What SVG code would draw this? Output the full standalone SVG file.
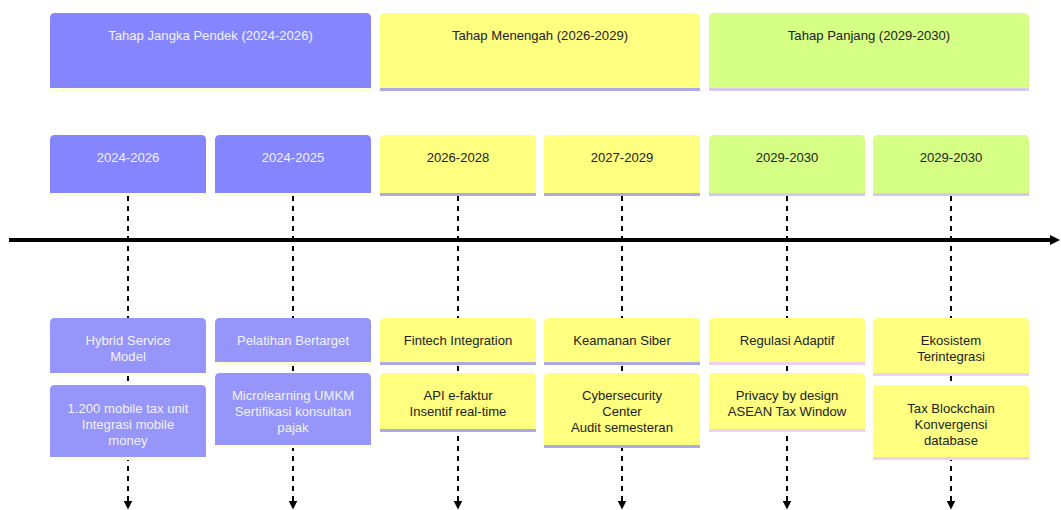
<svg xmlns="http://www.w3.org/2000/svg" width="1061" height="510" viewBox="0 0 1061 510">
<style>
text{font-family:"Liberation Sans",Arial,sans-serif;font-size:13.1px;text-anchor:middle;dominant-baseline:central}
.s0{fill:#8585ff}.s1{fill:#ffff80}.s2{fill:#d6ff85}
.e0{fill:#9595fa}
.t0{fill:#f2f2ff}.t1{fill:#222}
.l0{stroke:#ffffd6;stroke-width:3}.l1{stroke:#aaaae6;stroke-width:3}.l2{stroke:#d8c8f0;stroke-width:3}.l2e{stroke:#f0d0f0;stroke-width:3}
.dash{stroke:#000;stroke-width:2;stroke-dasharray:5,5;fill:none}
</style>
<defs>
<marker id="ah" viewBox="0 0 10 10" refX="5" refY="5" markerWidth="4.5" markerHeight="4.5" orient="auto"><path d="M0,0L10,5L0,10z" fill="#000"/></marker>
<marker id="ax" viewBox="0 0 10 10" refX="2" refY="5" markerWidth="2.5" markerHeight="3" orient="auto"><path d="M0,0L10,5L0,10z" fill="#000"/></marker>
</defs>
<g id="connectors">
<line x1="9" y1="240" x2="1052" y2="240" stroke="#000" stroke-width="4" marker-end="url(#ax)"/>
<line class="dash" x1="128" y1="196" x2="128" y2="505" marker-end="url(#ah)"/>
<line class="dash" x1="293" y1="196" x2="293" y2="505" marker-end="url(#ah)"/>
<line class="dash" x1="458" y1="196" x2="458" y2="505" marker-end="url(#ah)"/>
<line class="dash" x1="622" y1="196" x2="622" y2="505" marker-end="url(#ah)"/>
<line class="dash" x1="787" y1="196" x2="787" y2="505" marker-end="url(#ah)"/>
<line class="dash" x1="951" y1="196" x2="951" y2="505" marker-end="url(#ah)"/>
</g>
<g id="section-pendek">
<path class="s0" d="M50,88V18Q50,13 55,13H366Q371,13 371,18V88Z"/>
<line class="l0" x1="50" y1="89.5" x2="371" y2="89.5"/>
<text class="t0" x="210.5" y="35">Tahap Jangka Pendek (2024-2026)</text>
</g>
<g id="section-menengah">
<path class="s1" d="M380,88V18Q380,13 385,13H695Q700,13 700,18V88Z"/>
<line class="l1" x1="380" y1="89.5" x2="700" y2="89.5"/>
<text class="t1" x="540" y="35">Tahap Menengah (2026-2029)</text>
</g>
<g id="section-panjang">
<path class="s2" d="M709,88V18Q709,13 714,13H1024Q1029,13 1029,18V88Z"/>
<line class="l2" x1="709" y1="89.5" x2="1029" y2="89.5"/>
<text class="t1" x="869" y="35">Tahap Panjang (2029-2030)</text>
</g>
<g id="period-1">
<path class="s0" d="M50,193V140Q50,135 55,135H201Q206,135 206,140V193Z"/>
<line class="l0" x1="50" y1="194.5" x2="206" y2="194.5"/>
<text class="t0" x="128" y="157">2024-2026</text>
</g>
<g id="period-2">
<path class="s0" d="M215,193V140Q215,135 220,135H366Q371,135 371,140V193Z"/>
<line class="l0" x1="215" y1="194.5" x2="371" y2="194.5"/>
<text class="t0" x="293" y="157">2024-2025</text>
</g>
<g id="period-3">
<path class="s1" d="M380,193V140Q380,135 385,135H531Q536,135 536,140V193Z"/>
<line class="l1" x1="380" y1="194.5" x2="536" y2="194.5"/>
<text class="t1" x="458" y="157">2026-2028</text>
</g>
<g id="period-4">
<path class="s1" d="M544,193V140Q544,135 549,135H695Q700,135 700,140V193Z"/>
<line class="l1" x1="544" y1="194.5" x2="700" y2="194.5"/>
<text class="t1" x="622" y="157">2027-2029</text>
</g>
<g id="period-5">
<path class="s2" d="M709,193V140Q709,135 714,135H860Q865,135 865,140V193Z"/>
<line class="l2" x1="709" y1="194.5" x2="865" y2="194.5"/>
<text class="t1" x="787" y="157">2029-2030</text>
</g>
<g id="period-6">
<path class="s2" d="M873,193V140Q873,135 878,135H1024Q1029,135 1029,140V193Z"/>
<line class="l2" x1="873" y1="194.5" x2="1029" y2="194.5"/>
<text class="t1" x="951" y="157">2029-2030</text>
</g>
<g id="event-1a">
<path class="e0" d="M50,373V323Q50,318 55,318H201Q206,318 206,323V373Z"/>
<line class="l0" x1="50" y1="374.5" x2="206" y2="374.5"/>
<text class="t0" x="128"><tspan x="128" y="340">Hybrid Service</tspan><tspan x="128" y="356">Model</tspan></text>
</g>
<g id="event-1b">
<path class="e0" d="M50,457V390Q50,385 55,385H201Q206,385 206,390V457Z"/>
<line class="l0" x1="50" y1="458.5" x2="206" y2="458.5"/>
<text class="t0"><tspan x="128" y="408">1.200 mobile tax unit</tspan><tspan x="128" y="424">Integrasi mobile</tspan><tspan x="128" y="440">money</tspan></text>
</g>
<g id="event-2a">
<path class="e0" d="M215,362V323Q215,318 220,318H366Q371,318 371,323V362Z"/>
<line class="l0" x1="215" y1="363.5" x2="371" y2="363.5"/>
<text class="t0" x="293" y="340">Pelatihan Bertarget</text>
</g>
<g id="event-2b">
<path class="e0" d="M215,445V378Q215,373 220,373H366Q371,373 371,378V445Z"/>
<line class="l0" x1="215" y1="446.5" x2="371" y2="446.5"/>
<text class="t0"><tspan x="293" y="395">Microlearning UMKM</tspan><tspan x="293" y="411">Sertifikasi konsultan</tspan><tspan x="293" y="427">pajak</tspan></text>
</g>
<g id="event-3a">
<path class="s1" d="M380,362V323Q380,318 385,318H531Q536,318 536,323V362Z"/>
<line class="l1" x1="380" y1="363.5" x2="536" y2="363.5"/>
<text class="t1" x="458" y="340">Fintech Integration</text>
</g>
<g id="event-3b">
<path class="s1" d="M380,429V378Q380,373 385,373H531Q536,373 536,378V429Z"/>
<line class="l1" x1="380" y1="430.5" x2="536" y2="430.5"/>
<text class="t1"><tspan x="458" y="395">API e-faktur</tspan><tspan x="458" y="411">Insentif real-time</tspan></text>
</g>
<g id="event-4a">
<path class="s1" d="M544,362V323Q544,318 549,318H695Q700,318 700,323V362Z"/>
<line class="l1" x1="544" y1="363.5" x2="700" y2="363.5"/>
<text class="t1" x="622" y="340">Keamanan Siber</text>
</g>
<g id="event-4b">
<path class="s1" d="M544,445V378Q544,373 549,373H695Q700,373 700,378V445Z"/>
<line class="l1" x1="544" y1="446.5" x2="700" y2="446.5"/>
<text class="t1"><tspan x="622" y="395">Cybersecurity</tspan><tspan x="622" y="411">Center</tspan><tspan x="622" y="427">Audit semesteran</tspan></text>
</g>
<g id="event-5a">
<path class="s1" d="M709,362V323Q709,318 714,318H860Q865,318 865,323V362Z"/>
<line class="l2e" x1="709" y1="363.5" x2="865" y2="363.5"/>
<text class="t1" x="787" y="340">Regulasi Adaptif</text>
</g>
<g id="event-5b">
<path class="s1" d="M709,429V378Q709,373 714,373H860Q865,373 865,378V429Z"/>
<line class="l2e" x1="709" y1="430.5" x2="865" y2="430.5"/>
<text class="t1"><tspan x="787" y="395">Privacy by design</tspan><tspan x="787" y="411">ASEAN Tax Window</tspan></text>
</g>
<g id="event-6a">
<path class="s1" d="M873,373V323Q873,318 878,318H1024Q1029,318 1029,323V373Z"/>
<line class="l2e" x1="873" y1="374.5" x2="1029" y2="374.5"/>
<text class="t1"><tspan x="951" y="340">Ekosistem</tspan><tspan x="951" y="356">Terintegrasi</tspan></text>
</g>
<g id="event-6b">
<path class="s1" d="M873,457V390Q873,385 878,385H1024Q1029,385 1029,390V457Z"/>
<line class="l2e" x1="873" y1="458.5" x2="1029" y2="458.5"/>
<text class="t1"><tspan x="951" y="408">Tax Blockchain</tspan><tspan x="951" y="424">Konvergensi</tspan><tspan x="951" y="440">database</tspan></text>
</g>
</svg>
